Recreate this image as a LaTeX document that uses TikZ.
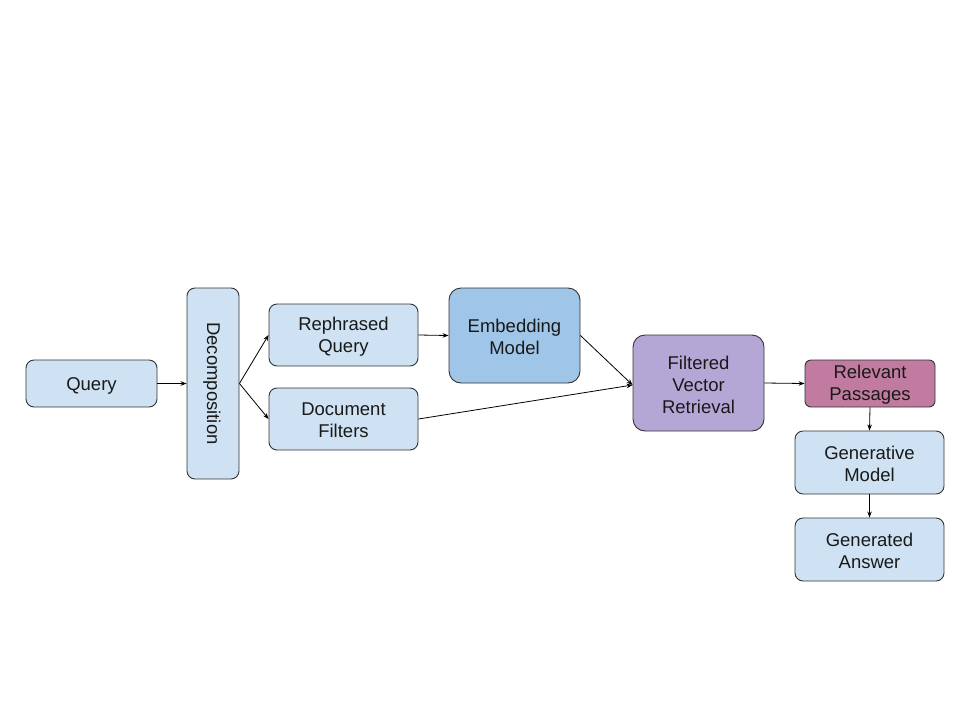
\documentclass[tikz,border=0pt]{standalone}
\usepackage{fontspec}
\setmainfont{Liberation Sans}
\usetikzlibrary{arrows.meta}
\begin{document}
\begin{tikzpicture}[x=1pt,y=-1pt,
  box/.style={draw=black!80, line width=0.9pt, rounded corners=8pt, inner sep=0pt},
  lb/.style={box, fill=lightb},
  txt/.style={align=center, inner sep=0pt, font=\fontsize{18.5}{22}\selectfont, text=black!90},
  conn/.style={draw=black, line width=0.8pt, -{Stealth[length=6pt,width=4.5pt]}}
]
\definecolor{lightb}{HTML}{CFE2F3}
\definecolor{midb}{HTML}{9FC5E8}
\definecolor{purp}{HTML}{B4A7D6}
\definecolor{mag}{HTML}{C27BA0}
\useasboundingbox[fill=white] (0,0) rectangle (960,720);
\node[lb, minimum width=131pt, minimum height=47pt] (query) at (91.5,383.5) {};
\node[lb, minimum width=52pt, minimum height=191pt] (dec) at (213,383.5) {};
\node[lb, minimum width=149pt, minimum height=62pt] (reph) at (343.5,335) {};
\node[lb, minimum width=149pt, minimum height=62pt] (filt) at (343.5,419) {};
\node[box, fill=midb, rounded corners=12pt, minimum width=131pt, minimum height=95pt] (emb) at (514.5,335.5) {};
\node[box, fill=purp, rounded corners=12pt, minimum width=131pt, minimum height=96pt] (fvr) at (698.5,383) {};
\node[box, fill=mag, rounded corners=6pt, minimum width=130pt, minimum height=47pt] (rel) at (870,383.5) {};
\node[lb, minimum width=149pt, minimum height=63pt] (gen) at (869.5,462.5) {};
\node[lb, minimum width=149pt, minimum height=63pt] (ans) at (869.5,549.5) {};
\node[txt] (queryt) at ([yshift=-2pt]query.center) {Query};
\node[txt, rotate=-90] (dect) at ([xshift=-1pt]dec.center) {Decomposition};
\node[txt] (repht) at ([yshift=-1.5pt]reph.center) {Rephrased\\Query};
\node[txt] (filtt) at ([yshift=-1.5pt]filt.center) {Document\\Filters};
\node[txt] (embt) at ([yshift=-1.5pt]emb.center) {Embedding\\Model};
\node[txt] (fvrt) at ([yshift=-1.5pt]fvr.center) {Filtered\\Vector\\Retrieval};
\node[txt] (relt) at ([yshift=-1.5pt]rel.center) {Relevant\\Passages};
\node[txt] (gent) at ([yshift=-1.5pt]gen.center) {Generative\\Model};
\node[txt] (anst) at ([yshift=-1.5pt]ans.center) {Generated\\Answer};
\draw[conn] (query.east) -- (dec.west);
\draw[conn] (dec.east) -- (reph.west);
\draw[conn] (dec.east) -- (filt.west);
\draw[conn] (reph.east) -- (emb.west);
\draw[conn] (emb.east) -- ([yshift=-2pt]fvr.west);
\draw[conn] (filt.east) -- ([yshift=-2pt]fvr.west);
\draw[conn] (fvr.east) -- (rel.west);
\draw[conn] (rel.south) -- (gen.north);
\draw[conn] (gen.south) -- (ans.north);
\end{tikzpicture}
\end{document}
